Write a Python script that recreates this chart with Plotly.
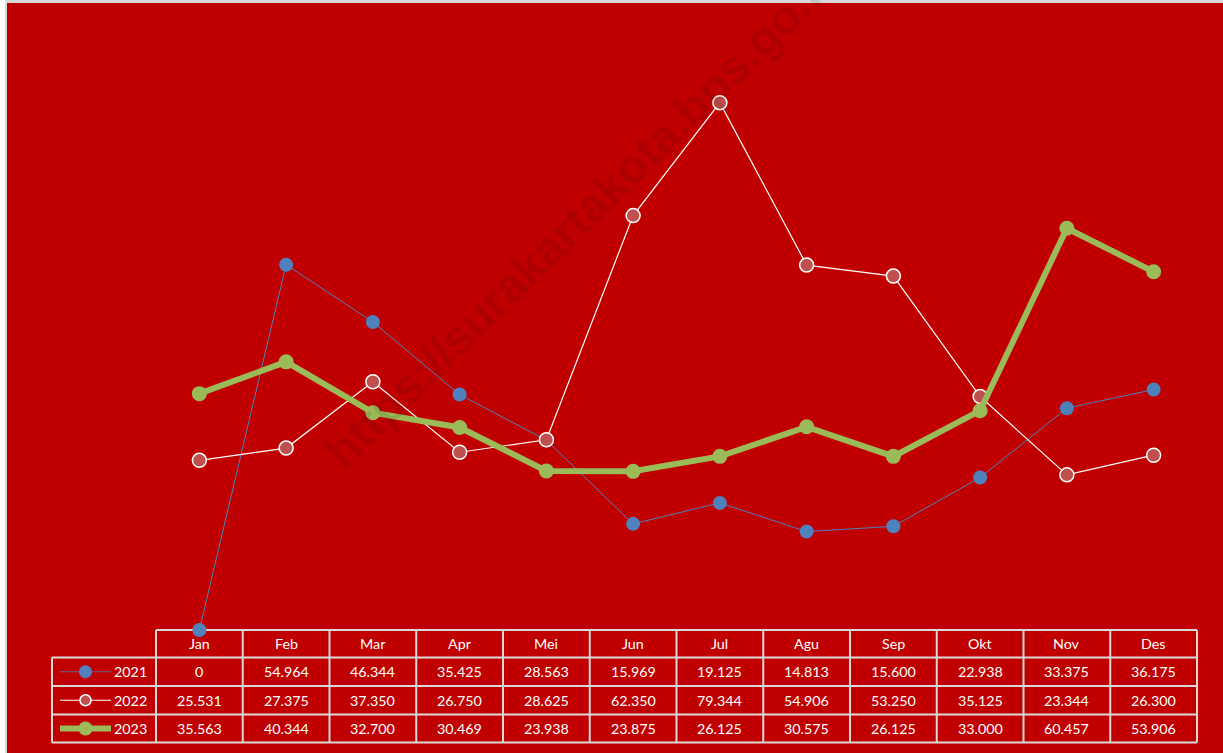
import plotly.graph_objects as go

months = ["Jan", "Feb", "Mar", "Apr", "Mei", "Jun", "Jul", "Agu", "Sep", "Okt", "Nov", "Des"]
years = ["2021", "2022", "2023"]
v2021 = [0, 54.964, 46.344, 35.425, 28.563, 15.969, 19.125, 14.813, 15.600, 22.938, 33.375, 36.175]
v2022 = [25.531, 27.375, 37.350, 26.750, 28.625, 62.350, 79.344, 54.906, 53.250, 35.125, 23.344, 26.300]
v2023 = [35.563, 40.344, 32.700, 30.469, 23.938, 23.875, 26.125, 30.575, 26.125, 33.000, 60.457, 53.906]
series = [v2021, v2022, v2023]

W, H = 1223, 753
L, R, T, B = 156, 1197, 30, 630  # plot area in pixels

BG = "#C00000"
BLUE = "#4F81BD"
ROSE = "#C0504D"
GREEN = "#9BBB59"
GRID = "#D9D9D9"
FONT = "Lato"


def px(X):
    return (X - L) / (R - L)


def py(Y):
    return (B - Y) / (B - T)


fig = go.Figure()

fig.add_trace(go.Scatter(
    x=months, y=v2021, name="2021", mode="lines+markers", cliponaxis=False,
    line=dict(color=BLUE, width=1),
    marker=dict(color=BLUE, size=14, line=dict(width=0)),
))
fig.add_trace(go.Scatter(
    x=months, y=v2022, name="2022", mode="lines+markers", cliponaxis=False,
    line=dict(color="white", width=1.2),
    marker=dict(color=ROSE, size=14, line=dict(color="white", width=1.5)),
))
fig.add_trace(go.Scatter(
    x=months, y=v2023, name="2023", mode="lines+markers", cliponaxis=False,
    line=dict(color=GREEN, width=6),
    marker=dict(color=GREEN, size=15, line=dict(width=0)),
))

shapes = []
annotations = []

# page frame
shapes.append(dict(type="rect", xref="paper", yref="paper", x0=px(-2), x1=px(5), y0=py(H + 2), y1=py(-2),
                   fillcolor="white", line=dict(width=0), layer="above"))
shapes.append(dict(type="rect", xref="paper", yref="paper", x0=px(5), x1=px(7), y0=py(H + 2), y1=py(-2),
                   fillcolor=GRID, line=dict(width=0), layer="above"))
shapes.append(dict(type="rect", xref="paper", yref="paper", x0=px(5), x1=px(W + 2), y0=py(3), y1=py(-2),
                   fillcolor=GRID, line=dict(width=0), layer="above"))

# data table
row_y = [630, 657.5, 686, 714.5, 742.5]
ncol = len(months)
colw = (R - L) / ncol
col_x = [L + i * colw for i in range(ncol + 1)]
leg_left = 52

for i, y in enumerate(row_y):
    x0 = L if i == 0 else leg_left
    shapes.append(dict(type="line", xref="paper", yref="paper", x0=px(x0), x1=px(R), y0=py(y), y1=py(y),
                       line=dict(color=GRID, width=2), layer="below"))
for x in col_x:
    shapes.append(dict(type="line", xref="paper", yref="paper", x0=px(x), x1=px(x), y0=py(row_y[0]), y1=py(row_y[-1]),
                       line=dict(color=GRID, width=2), layer="below"))
shapes.append(dict(type="line", xref="paper", yref="paper", x0=px(leg_left), x1=px(leg_left),
                   y0=py(row_y[1]), y1=py(row_y[-1]), line=dict(color=GRID, width=2), layer="below"))

txt_font = dict(family=FONT, size=14.3, color="white")
hy = (row_y[0] + row_y[1]) / 2
for j, m in enumerate(months):
    annotations.append(dict(xref="paper", yref="paper", x=px(col_x[j] + colw / 2), y=py(hy), text=m,
                            showarrow=False, font=txt_font, xanchor="center", yanchor="middle"))


def fmt(v):
    return "0" if v == 0 else f"{v:.3f}"


styles = [
    dict(lc="#6A5E96", lw=1.2, mc=BLUE, mr=6.5, ml=0),
    dict(lc="white", lw=1.2, mc=ROSE, mr=5.5, ml=1.5),
    dict(lc=GREEN, lw=6, mc=GREEN, mr=7, ml=0),
]
for r, (yr, vals, st) in enumerate(zip(years, series, styles)):
    cy = (row_y[r + 1] + row_y[r + 2]) / 2
    for j, v in enumerate(vals):
        annotations.append(dict(xref="paper", yref="paper", x=px(col_x[j] + colw / 2), y=py(cy), text=fmt(v),
                                showarrow=False, font=txt_font, xanchor="center", yanchor="middle"))
    # legend key
    shapes.append(dict(type="line", xref="paper", yref="paper", x0=px(60), x1=px(111), y0=py(cy), y1=py(cy),
                       line=dict(color=st["lc"], width=st["lw"]), layer="above"))
    shapes.append(dict(type="circle", xref="paper", yref="paper",
                       x0=px(85.5 - st["mr"]), x1=px(85.5 + st["mr"]), y0=py(cy + st["mr"]), y1=py(cy - st["mr"]),
                       fillcolor=st["mc"],
                       line=dict(color="white" if st["ml"] else st["mc"], width=st["ml"] if st["ml"] else 0.1),
                       layer="above"))
    annotations.append(dict(xref="paper", yref="paper", x=px(148.5), y=py(cy), text=yr,
                            showarrow=False, font=txt_font, xanchor="right", yanchor="middle"))

# watermark
annotations.append(dict(xref="paper", yref="paper", x=px(582), y=py(214),
                        text="<b>https://surakartakota.bps.go.id</b>", showarrow=False,
                        textangle=-44.4, xanchor="center", yanchor="middle",
                        font=dict(family="Liberation Sans, Arial", size=48, color="rgba(0,0,0,0.11)")))

fig.update_layout(
    width=W, height=H,
    margin=dict(l=L, r=W - R, t=T, b=H - B, pad=0),
    paper_bgcolor=BG, plot_bgcolor="rgba(0,0,0,0)",
    showlegend=False,
    shapes=shapes, annotations=annotations,
    xaxis=dict(type="category", range=[-0.5, ncol - 0.5], showgrid=False, zeroline=False,
               showticklabels=False, ticks="", showline=False, fixedrange=True),
    yaxis=dict(range=[0, (B - T) / 6.646], showgrid=False, zeroline=False,
               showticklabels=False, ticks="", showline=False, fixedrange=True),
    font=dict(family=FONT),
)

fig.write_html("out.html", config={"displayModeBar": False},
               post_script="document.body.style.margin='0';document.body.style.overflow='hidden';")
